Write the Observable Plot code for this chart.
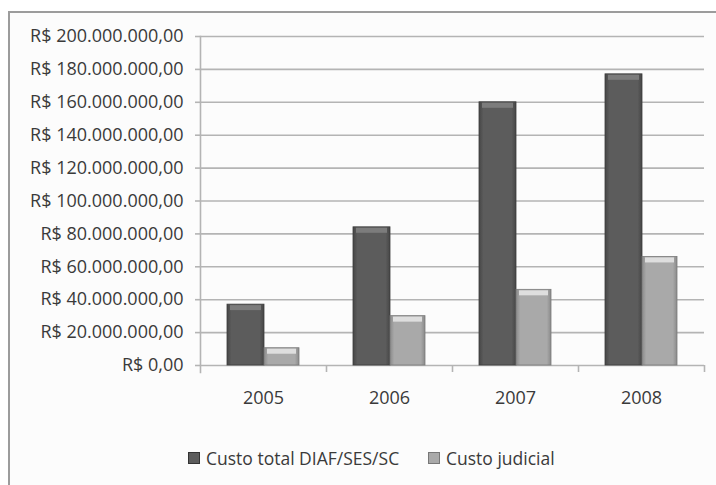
<!DOCTYPE html>
<html>
<head>
<meta charset="utf-8">
<script src="https://cdn.jsdelivr.net/npm/d3@7"></script>
<script src="https://cdn.jsdelivr.net/npm/@observablehq/plot@0.6"></script>
<style>
  html, body { margin: 0; padding: 0; background: #ffffff; }
  #wrap { position: relative; width: 716px; height: 485px; overflow: hidden; }
  #border { position: absolute; left: 8px; top: 11px; width: 800px; height: 600px;
            border: 2px solid #9c9c9c; background: #fcfcfc; box-sizing: border-box; }
  #chart { position: absolute; left: 0; top: 0; }
  #legend { position: absolute; left: 0; top: 420px; width: 716px; height: 65px;
            font-family: "Open Sans", sans-serif; font-size: 17.5px; color: #3a3a3a; }
  .item { position: absolute; top: 26px; display: flex; align-items: center; white-space: nowrap; }
  .sw { width: 12px; height: 12px; margin-right: 6px; box-sizing: border-box; }
</style>
</head>
<body>
<div id="wrap">
  <div id="border"></div>
  <div id="chart"></div>
  <div id="legend"></div>
</div>
<script>
const years = ["2005", "2006", "2007", "2008"];
const seriesNames = ["Custo total DIAF/SES/SC", "Custo judicial"];
const custoTotal = [37000000, 84000000, 160000000, 177000000];
const custoJudicial = [10500000, 30000000, 46000000, 66000000];
const yTicks = [0, 20000000, 40000000, 60000000, 80000000, 100000000, 120000000, 140000000, 160000000, 180000000, 200000000];

const colors = { dark: "#5c5c5c", light: "#a9a9a9" };

const totalData = years.map((year, i) => ({ year, series: seriesNames[0], value: custoTotal[i] }));
const judData = years.map((year, i) => ({ year, series: seriesNames[1], value: custoJudicial[i] }));

const locale = d3.formatLocale({ decimal: ",", thousands: ".", grouping: [3], currency: ["R$ ", ""] });
const fmt = locale.format("$,.2f");

const font = "'Open Sans', sans-serif";
const gridColor = "#b4b4b4";

const svg = Plot.plot({
  width: 716,
  height: 420,
  marginLeft: 200,
  marginRight: 12,
  marginTop: 36,
  marginBottom: 55,
  style: { fontFamily: font, fontSize: "18px", color: "#3a3a3a", background: "transparent", overflow: "visible" },
  x: { domain: years, padding: 0, label: null },
  y: { domain: [0, 200000000], label: null },
  marks: [
    Plot.gridY(yTicks, { stroke: gridColor, strokeOpacity: 1, strokeWidth: 1.6 }),
    Plot.axisY({ ticks: yTicks, tickFormat: fmt, tickSize: 5, tickPadding: 12, stroke: gridColor, strokeWidth: 1.6, fill: "#3a3a3a", label: null }),
    Plot.axisX({ tickSize: 0, tickPadding: 26, fill: "#3a3a3a", label: null }),
    Plot.frame({ anchor: "left", stroke: gridColor, strokeWidth: 1.6, insetBottom: -7 }),
    Plot.ruleX(years.slice(1), { x: d => d, y1: 0, y2: 0, insetBottom: -7, dx: -63, stroke: gridColor, strokeWidth: 1.6 }),
    Plot.ruleX(years.slice(-1), { x: d => d, y1: 0, y2: 0, insetBottom: -7, dx: 63, stroke: gridColor, strokeWidth: 1.6 }),
    Plot.barY(totalData, { x: "year", y: "value", insetLeft: 27, insetRight: 62, fill: "url(#gDark)", stroke: "#3c3c3c", strokeWidth: 0.8 }),
    Plot.barY(judData, { x: "year", y: "value", insetLeft: 64, insetRight: 27, fill: "url(#gLight)", stroke: "#7a7a7a", strokeWidth: 0.8 }),
    Plot.tickY(totalData, { x: "year", y: "value", insetLeft: 30, insetRight: 65, dy: 3, stroke: "#7c7c7c", strokeWidth: 5 }),
    Plot.tickY(judData, { x: "year", y: "value", insetLeft: 67, insetRight: 30, dy: 3, stroke: "#dedede", strokeWidth: 5 })
  ]
});

const defs = d3.select(svg).insert("defs", ":first-child");
function grad(id, edge, mid) {
  const g = defs.append("linearGradient").attr("id", id).attr("x1", "0").attr("x2", "1").attr("y1", "0").attr("y2", "0");
  g.append("stop").attr("offset", "0").attr("stop-color", edge);
  g.append("stop").attr("offset", "0.12").attr("stop-color", mid);
  g.append("stop").attr("offset", "0.88").attr("stop-color", mid);
  g.append("stop").attr("offset", "1").attr("stop-color", edge);
}
grad("gDark", "#464646", colors.dark);
grad("gLight", "#8a8a8a", colors.light);

document.getElementById("chart").appendChild(svg);

const legend = document.getElementById("legend");
const legendItems = [
  { name: seriesNames[0], color: colors.dark, edge: "#333", left: 188 },
  { name: seriesNames[1], color: colors.light, edge: "#777", left: 428 }
];
legendItems.forEach(it => {
  const d = document.createElement("div");
  d.className = "item";
  d.style.left = it.left + "px";
  const s = document.createElement("span");
  s.className = "sw";
  s.style.background = it.color;
  s.style.border = "1px solid " + it.edge;
  const t = document.createElement("span");
  t.textContent = it.name;
  d.appendChild(s);
  d.appendChild(t);
  legend.appendChild(d);
});
</script>
</body>
</html>
